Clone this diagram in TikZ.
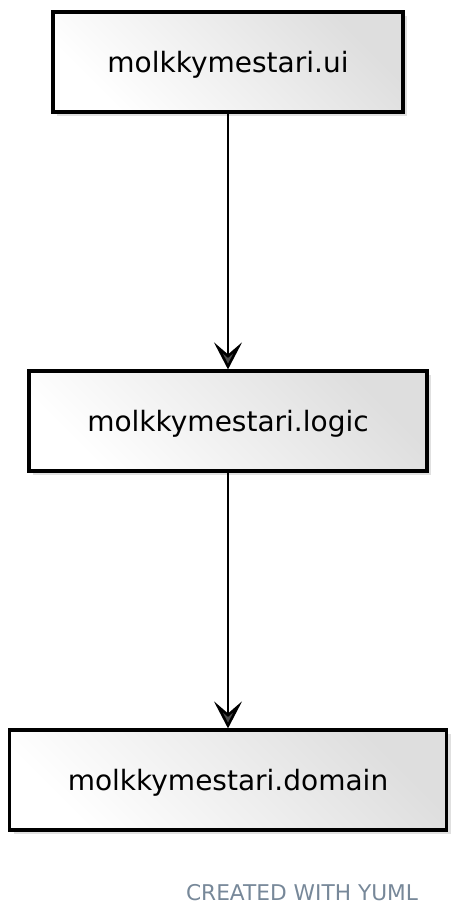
\documentclass[tikz,border=0pt]{standalone}
\usepackage{fontspec}
\setmainfont{DejaVu Sans}
\usetikzlibrary{arrows.meta,shadows}
\definecolor{footgrey}{HTML}{778899}
\begin{document}
\begin{tikzpicture}[x=1pt,y=-1pt,
  pkg/.style={draw=black,line width=3.2pt,minimum height=100pt,
    top color=white,bottom color=black!13,shading angle=135,
    font=\fontsize{28}{32}\selectfont,text depth=0pt,
    drop shadow={opacity=0.2,shadow xshift=4pt,shadow yshift=-4pt,fill=black!60}},
  dep/.style={line width=2.8pt,
    -{Stealth[length=27pt,width=28pt,inset=12pt,fill=black!70,line width=2.6pt]}}]
\useasboundingbox (0,0) rectangle (454,917);
\node[pkg,minimum width=350pt] (ui) at (228,62) {molkkymestari.ui};
\node[pkg,minimum width=398pt] (logic) at (228,421) {molkkymestari.logic};
\node[pkg,minimum width=437pt] (domain) at (228,780) {molkkymestari.domain};
\draw[dep] (ui) to (logic);
\draw[dep] (logic) to (domain);
\node[text=footgrey,font=\fontsize{21.7}{25}\selectfont] (yuml) at (302,893) {CREATED WITH YUML};
\end{tikzpicture}
\end{document}
